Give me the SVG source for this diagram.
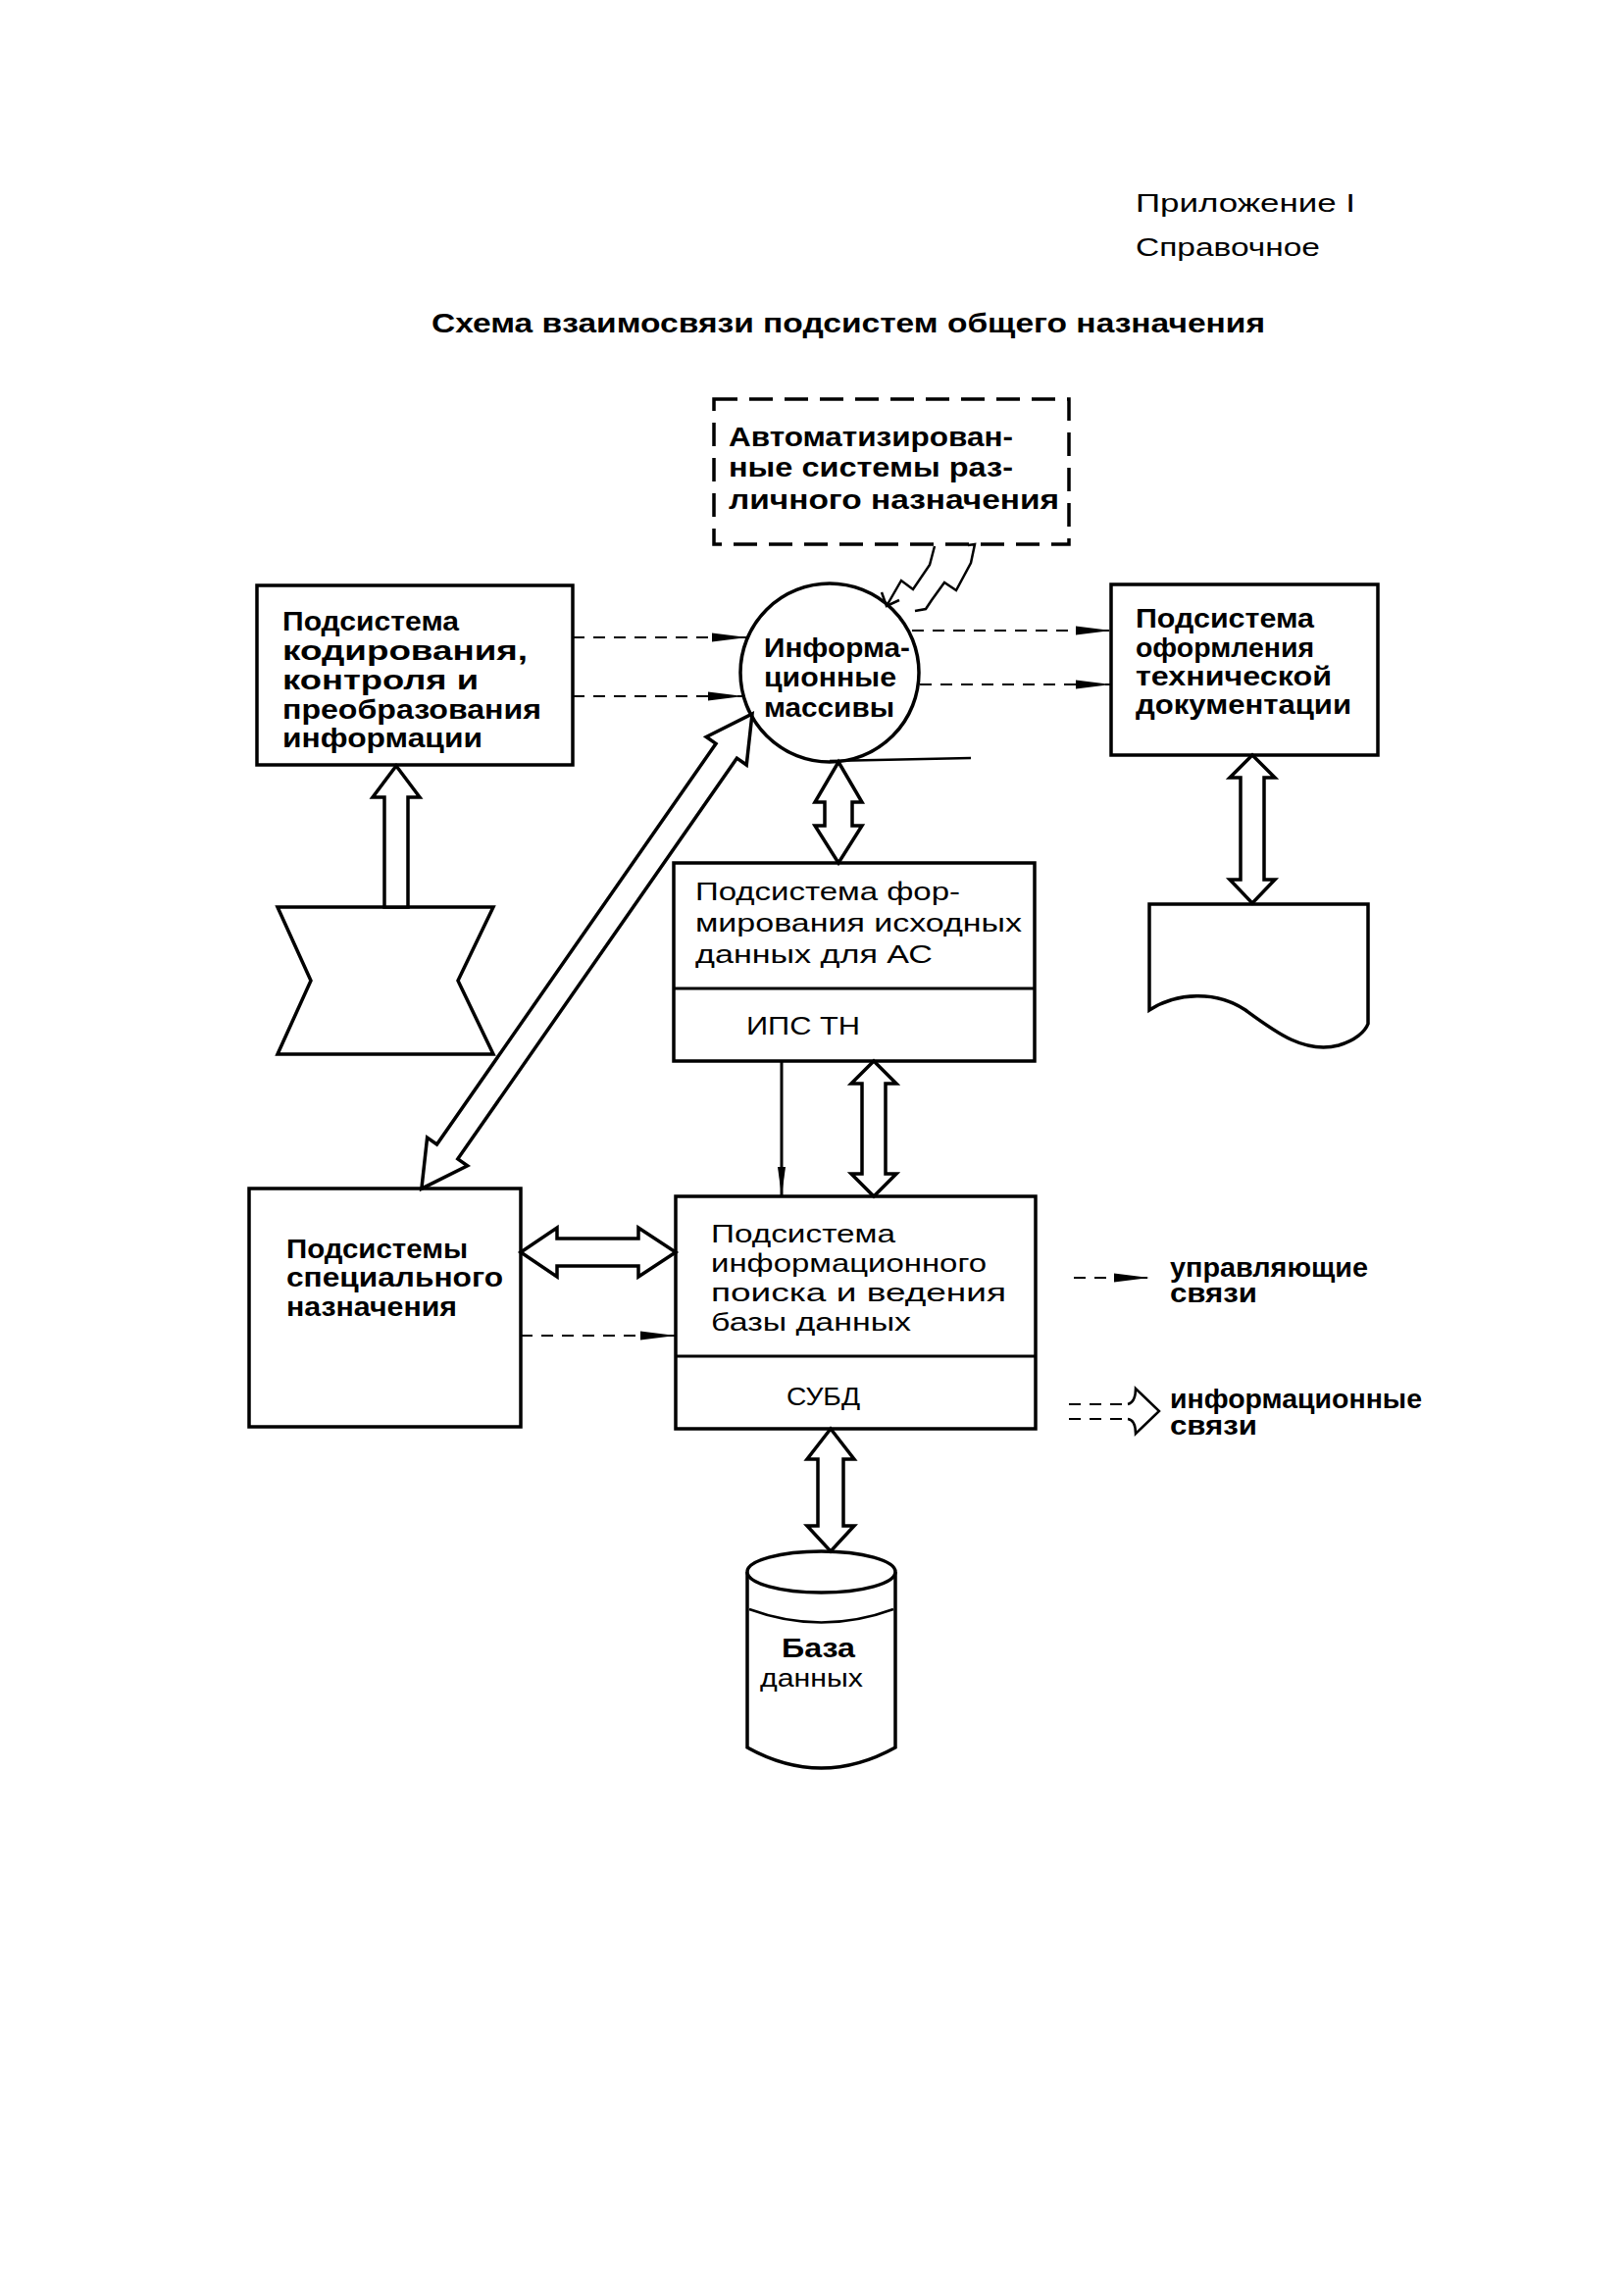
<svg xmlns="http://www.w3.org/2000/svg" width="1656" height="2322" viewBox="0 0 1656 2322">
<defs>
<style>
.box{fill:#fff;stroke:#000;stroke-width:3.5}
.dbox{fill:#fff;stroke:#000;stroke-width:3.5;stroke-dasharray:24 12}
.t{font-family:"Liberation Sans",Arial,sans-serif;font-weight:bold;font-size:27px;fill:#000}
.r{font-family:"Liberation Sans",Arial,sans-serif;font-weight:normal;font-size:26px;fill:#000}
.ctl{fill:none;stroke:#000;stroke-width:2.2;stroke-dasharray:12 9}
.hol{fill:#fff;stroke:#000;stroke-width:3.5;stroke-linejoin:miter}
.ln{fill:none;stroke:#000;stroke-width:3}
.thin{fill:none;stroke:#000;stroke-width:2.5}
</style>
<marker id="ah" markerUnits="userSpaceOnUse" markerWidth="36" markerHeight="12" refX="36" refY="6" orient="auto"><path d="M0,1.5 L36,6 L0,10.5 z" fill="#000"/></marker>
<marker id="ahs" markerUnits="userSpaceOnUse" markerWidth="30" markerHeight="10" refX="30" refY="5" orient="auto"><path d="M0,1 L30,5 L0,9 z" fill="#000"/></marker>
</defs>
<rect width="1656" height="2322" fill="#fff"/>

<g id="header">
<text class="r" x="1158" y="216" textLength="224" lengthAdjust="spacingAndGlyphs">Приложение I</text>
<text class="r" x="1158" y="261" textLength="188" lengthAdjust="spacingAndGlyphs">Справочное</text>
<text class="t" x="440" y="339" textLength="850" lengthAdjust="spacingAndGlyphs">Схема взаимосвязи подсистем общего назначения</text>
</g>

<g id="node-auto">
<rect class="dbox" x="728" y="407" width="362" height="148"/>
<text class="t" x="743" y="455" textLength="290" lengthAdjust="spacingAndGlyphs">Автоматизирован-</text>
<text class="t" x="743" y="486" textLength="290" lengthAdjust="spacingAndGlyphs">ные системы раз-</text>
<text class="t" x="743" y="519" textLength="337" lengthAdjust="spacingAndGlyphs">личного назначения</text>
</g>

<g id="node-coding">
<rect class="box" x="262" y="597" width="322" height="183"/>
<text class="t" x="288" y="643" textLength="180" lengthAdjust="spacingAndGlyphs">Подсистема</text>
<text class="t" x="288" y="673" textLength="250" lengthAdjust="spacingAndGlyphs">кодирования,</text>
<text class="t" x="288" y="703" textLength="200" lengthAdjust="spacingAndGlyphs">контроля и</text>
<text class="t" x="288" y="733" textLength="264" lengthAdjust="spacingAndGlyphs">преобразования</text>
<text class="t" x="288" y="762" textLength="204" lengthAdjust="spacingAndGlyphs">информации</text>
</g>

<g id="node-arrays">
<circle class="box" cx="846" cy="686" r="91"/>
<text class="t" x="779" y="670" textLength="149" lengthAdjust="spacingAndGlyphs">Информа-</text>
<text class="t" x="779" y="700" textLength="135" lengthAdjust="spacingAndGlyphs">ционные</text>
<text class="t" x="779" y="731" textLength="133" lengthAdjust="spacingAndGlyphs">массивы</text>
</g>

<g id="node-docs">
<rect class="box" x="1133" y="596" width="272" height="174"/>
<text class="t" x="1158" y="640" textLength="182" lengthAdjust="spacingAndGlyphs">Подсистема</text>
<text class="t" x="1158" y="670" textLength="182" lengthAdjust="spacingAndGlyphs">оформления</text>
<text class="t" x="1158" y="699" textLength="200" lengthAdjust="spacingAndGlyphs">технической</text>
<text class="t" x="1158" y="728" textLength="220" lengthAdjust="spacingAndGlyphs">документации</text>
</g>

<g id="node-input">
<polygon class="box" points="283,925 503,925 467,1000 503,1075 283,1075 317,1000"/>
</g>

<g id="node-document">
<path class="box" d="M1172,1030 L1172,922 L1395,922 L1395,1044 C1392,1052 1382,1061 1365,1066 C1330,1075 1300,1052 1270,1030 C1240,1010 1200,1012 1172,1030 Z"/>
</g>

<g id="node-formation">
<rect class="box" x="687" y="880" width="368" height="202"/>
<line class="ln" x1="687" y1="1008" x2="1055" y2="1008"/>
<text class="r" x="709" y="918" textLength="270" lengthAdjust="spacingAndGlyphs">Подсистема фор-</text>
<text class="r" x="709" y="950" textLength="333" lengthAdjust="spacingAndGlyphs">мирования исходных</text>
<text class="r" x="709" y="982" textLength="242" lengthAdjust="spacingAndGlyphs">данных для АС</text>
<text class="r" x="761" y="1055" textLength="116" lengthAdjust="spacingAndGlyphs">ИПС ТН</text>
</g>

<g id="node-special">
<rect class="box" x="254" y="1212" width="277" height="243"/>
<text class="t" x="292" y="1283" textLength="185" lengthAdjust="spacingAndGlyphs">Подсистемы</text>
<text class="t" x="292" y="1312" textLength="221" lengthAdjust="spacingAndGlyphs">специального</text>
<text class="t" x="292" y="1342" textLength="174" lengthAdjust="spacingAndGlyphs">назначения</text>
</g>

<g id="node-search">
<rect class="box" x="689" y="1220" width="367" height="237"/>
<line class="ln" x1="689" y1="1383" x2="1056" y2="1383"/>
<text class="r" x="725" y="1267" textLength="188" lengthAdjust="spacingAndGlyphs">Подсистема</text>
<text class="r" x="725" y="1297" textLength="281" lengthAdjust="spacingAndGlyphs">информационного</text>
<text class="r" x="725" y="1327" textLength="301" lengthAdjust="spacingAndGlyphs">поиска и ведения</text>
<text class="r" x="725" y="1357" textLength="204" lengthAdjust="spacingAndGlyphs">базы данных</text>
<text class="r" x="802" y="1433" textLength="75" lengthAdjust="spacingAndGlyphs">СУБД</text>
</g>

<g id="node-db">
<path class="box" d="M762,1603 L762,1782 Q837.5,1824 913,1782 L913,1603"/>
<ellipse class="box" cx="837.5" cy="1603" rx="75.5" ry="21"/>
<path class="thin" d="M764,1641 Q837.5,1668 911,1641"/>
<text class="t" x="797" y="1690" textLength="75" lengthAdjust="spacingAndGlyphs">База</text>
<text class="r" x="775" y="1720" textLength="105" lengthAdjust="spacingAndGlyphs">данных</text>
</g>

<g id="connectors">
<line class="ctl" x1="584" y1="650" x2="762" y2="650" marker-end="url(#ah)"/>
<line class="ctl" x1="584" y1="710" x2="758" y2="710" marker-end="url(#ah)"/>
<line class="ctl" x1="930" y1="643" x2="1133" y2="643" marker-end="url(#ah)"/>
<line class="ctl" x1="938" y1="698" x2="1133" y2="698" marker-end="url(#ah)"/>
<line class="ctl" x1="531" y1="1362" x2="689" y2="1362" marker-end="url(#ah)"/>
<line class="ln" x1="797" y1="1082" x2="797" y2="1220" marker-end="url(#ahs)"/>
<line class="thin" x1="846" y1="776" x2="990" y2="773"/>
<polyline class="thin" points="904,618 919,592 931,601 948,576 953,557"/>
<path class="thin" d="M899,604 L904,618 L917,612"/>
<polyline class="thin" points="987,556 994,555 990,574 975,602 963,594 950,612 944,621 933,623"/>
<polygon class="hol" points="404,781 428,813 416,813 416,925 392,925 392,813 380,813"/>
<polygon class="hol" points="855,777 879,818 869,818 869,842 879,842 855,880 831,842 841,842 841,818 831,818"/>
<polygon class="hol" points="891,1082 914,1105 903,1105 903,1197 914,1197 891,1220 868,1197 879,1197 879,1105 868,1105"/>
<polygon class="hol" points="1277,770 1300,793 1289,793 1289,897 1300,897 1277,921 1254,897 1265,897 1265,793 1254,793"/>
<polygon class="hol" points="847,1457 871,1488 860,1488 860,1556 871,1556 847,1582 823,1556 834,1556 834,1488 823,1488"/>
<polygon class="hol" points="531,1277 568,1252 568,1263 651,1263 651,1252 689,1277 651,1302 651,1291 568,1291 568,1302"/>
<polygon class="hol" transform="translate(767,728) rotate(124.85)" points="0,0 46,-25 46,-13 544,-13 544,-25 590,0 544,25 544,13 46,13 46,25"/>
</g>

<g id="legend">
<line class="ctl" x1="1095" y1="1303" x2="1172" y2="1303" marker-end="url(#ah)"/>
<text class="t" x="1193" y="1302" textLength="202" lengthAdjust="spacingAndGlyphs">управляющие</text>
<text class="t" x="1193" y="1328" textLength="89" lengthAdjust="spacingAndGlyphs">связи</text>
<line class="ctl" x1="1090" y1="1432" x2="1152" y2="1432"/>
<line class="ctl" x1="1090" y1="1447" x2="1152" y2="1447"/>
<path class="thin" d="M1150,1432 Q1158,1430 1158,1416 L1182,1439 L1158,1462 Q1158,1448 1150,1447"/>
<text class="t" x="1193" y="1436" textLength="257" lengthAdjust="spacingAndGlyphs">информационные</text>
<text class="t" x="1193" y="1463" textLength="89" lengthAdjust="spacingAndGlyphs">связи</text>
</g>
</svg>
